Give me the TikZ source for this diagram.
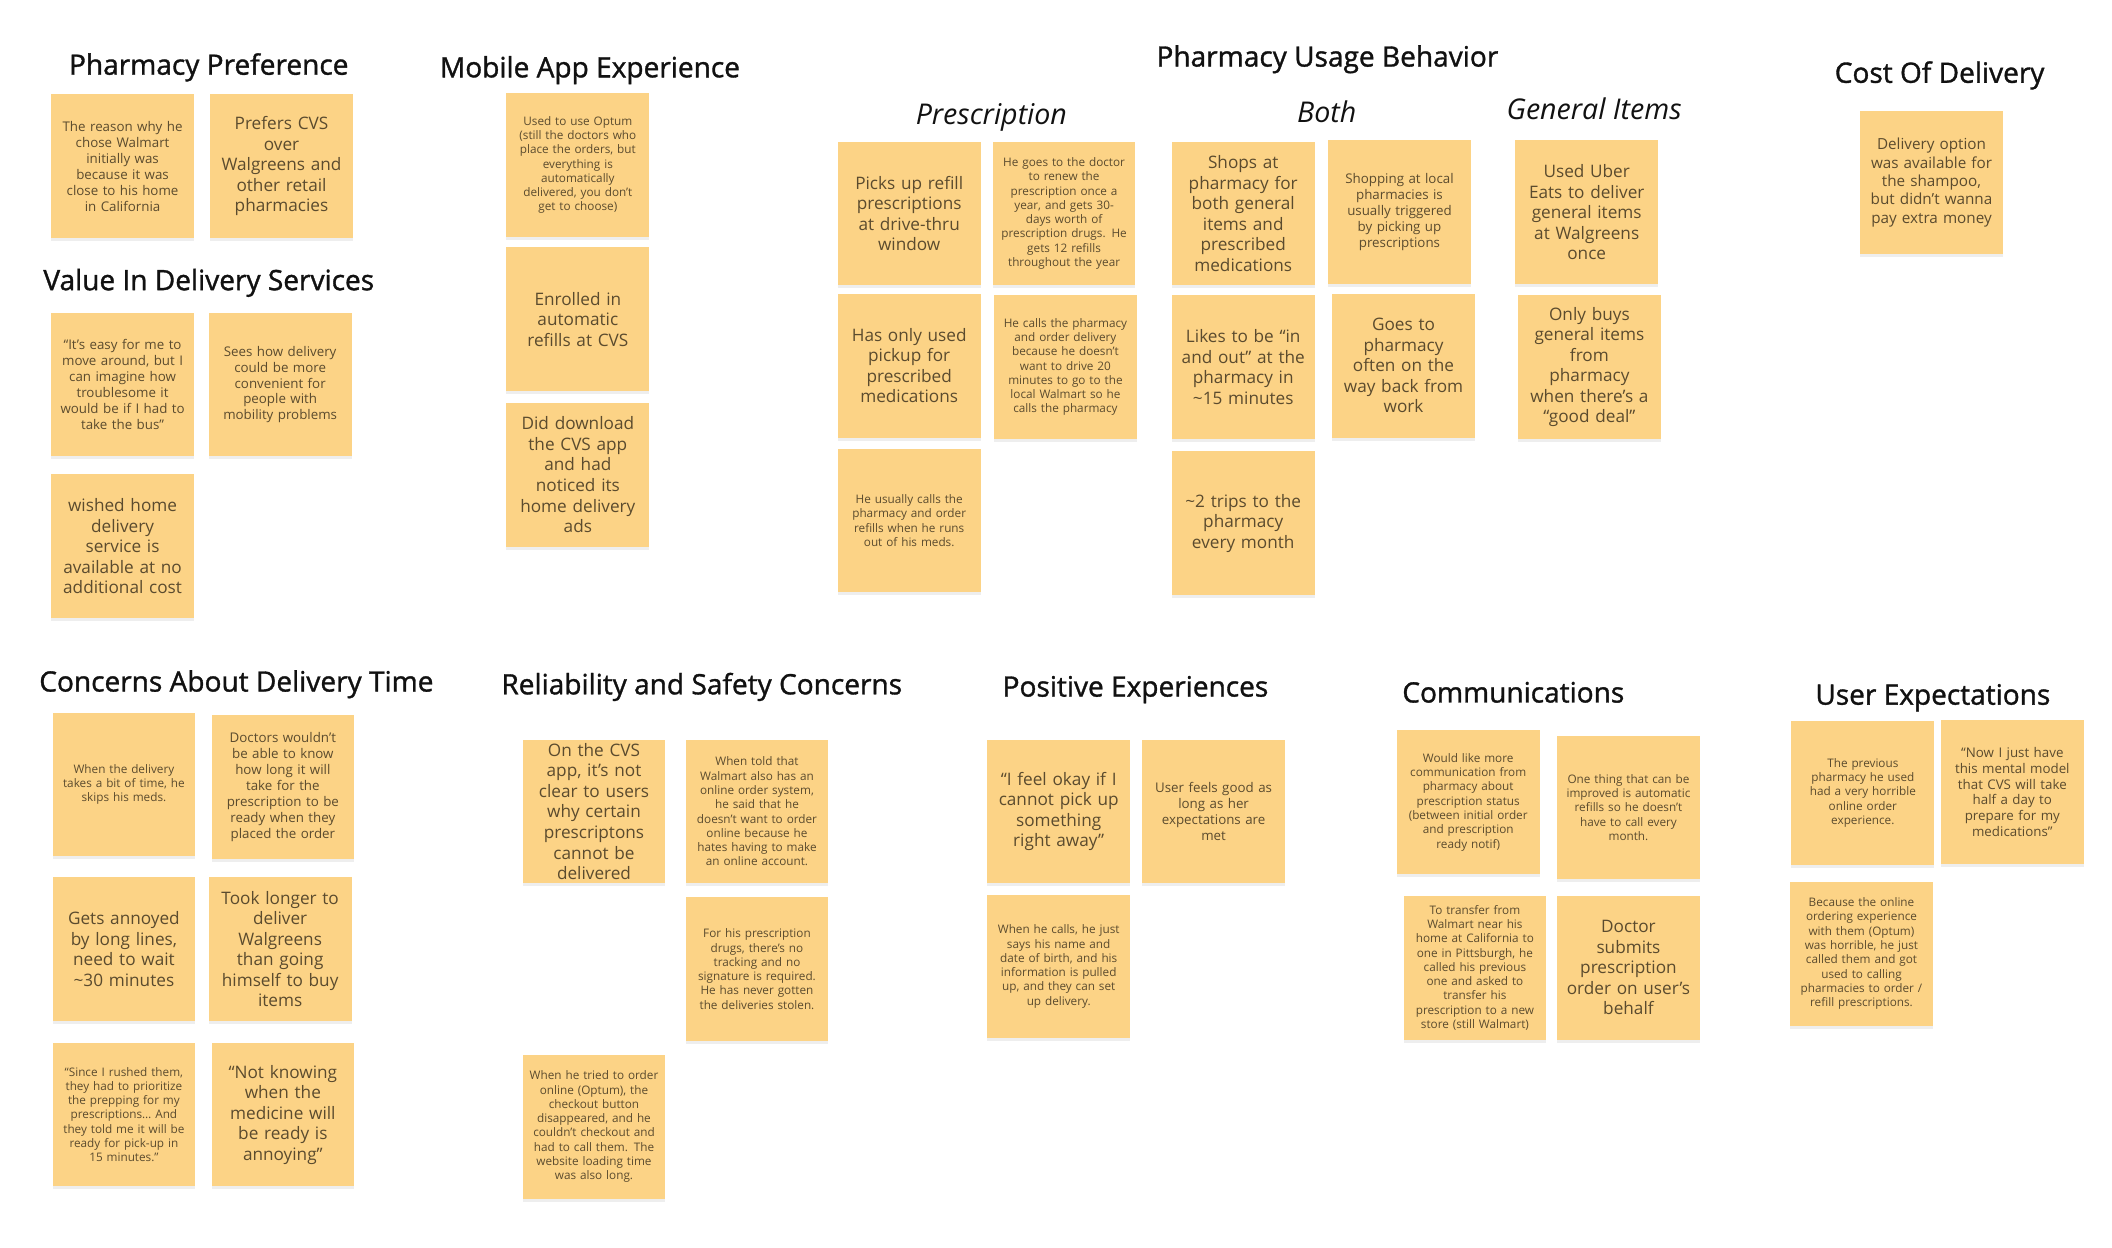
\documentclass[tikz,border=0pt]{standalone}
\usepackage{fontspec}
\setmainfont{Open Sans}
\newfontfamily\headfont{Open Sans}[FakeBold=1.2]
\usetikzlibrary{shadows}
\definecolor{stickyfill}{HTML}{FCD386}
\definecolor{stickyink}{HTML}{5B4B2E}
\definecolor{headink}{HTML}{111111}

\begin{document}
\begin{tikzpicture}[x=0.027cm,y=-0.027cm,
                    sticky/.style={fill=stickyfill, text=stickyink, align=center,
                        text width=2.7cm, minimum width=2.86cm, minimum height=2.88cm, inner sep=0pt,
                        drop shadow={shadow xshift=0pt, shadow yshift=-0.6mm, opacity=0.13}},
                    stickybig/.style={sticky, font=\fontsize{9.8}{11.7}\selectfont},
                    stickymid/.style={sticky, font=\fontsize{7.6}{9.1}\selectfont},
                    stickysmall/.style={sticky, font=\fontsize{6.7}{8.15}\selectfont},
                    stickycost/.style={sticky, font=\fontsize{8.7}{10.45}\selectfont},
                    heading/.style={text=headink, font=\headfont\fontsize{16}{19}\selectfont},
                    subheading/.style={text=headink, font=\fontsize{16.3}{19}\selectfont\itshape}]
                    \fill[white] (0,0) rectangle (1568,926.5);
                    \useasboundingbox (0,0) rectangle (1568,926.5);

                    % Heading Pharmacy Preference
                    \node[heading] (hpref) at (155,50) {Pharmacy Preference};%
                    \node[stickymid] (pp1) at (91,123.5) {The reason why he\\chose Walmart\\initially was\\because it was\\close to his home\\in California};%
                    \node[stickybig] (pp2) at (209,123.5) {Prefers CVS\\over\\Walgreens and\\other retail\\pharmacies};%

                    % Heading Value In Delivery Services
                    \node[heading] (hvalue) at (155,210) {Value In Delivery Services};%
                    \node[stickymid] (vd1) at (91,285.5) {“It’s easy for me to\\move around, but I\\can imagine how\\troublesome it\\would be if I had to\\take the bus”};%
                    \node[stickymid] (vd2) at (208,285.5) {Sees how delivery\\could be more\\convenient for\\people with\\mobility problems};%
                    \node[stickybig] (vd3) at (91,405.5) {wished home\\delivery\\service is\\available at no\\additional cost};%

                    % Heading Mobile App Experience
                    \node[heading] (hmobile) at (438,52) {Mobile App Experience};%
                    \node[stickysmall] (ma1) at (429,122.5) {Used to use Optum\\(still the doctors who\\place the orders, but\\everything is\\automatically\\delivered, you don’t\\get to choose)};%
                    \node[stickybig] (ma2) at (429,237) {Enrolled in\\automatic\\refills at CVS};%
                    \node[stickybig] (ma3) at (429,352.5) {Did download\\the CVS app\\and had\\noticed its\\home delivery\\ads};%

                    % Heading Pharmacy Usage Behavior
                    \node[heading] (husage) at (985.5,44) {Pharmacy Usage Behavior};%

                    % Subheading Prescription
                    \node[subheading] (hpresc) at (736,87) {Prescription};%
                    \node[stickybig] (pr1) at (675,158.5) {Picks up refill\\prescriptions\\at drive-thru\\window};%
                    \node[stickysmall] (pr2) at (790,158.5) {He goes to the doctor\\to renew the\\prescription once a\\year, and gets 30-\\days worth of\\prescription drugs. He\\gets 12 refills\\throughout the year};%
                    \node[stickybig] (pr3) at (675,271.5) {Has only used\\pickup for\\prescribed\\medications};%
                    \node[stickysmall] (pr4) at (791,272.5) {He calls the pharmacy\\and order delivery\\because he doesn’t\\want to drive 20\\minutes to go to the\\local Walmart so he\\calls the pharmacy};%
                    \node[stickysmall] (pr5) at (675,386.5) {He usually calls the\\pharmacy and order\\refills when he runs\\out of his meds.};%

                    % Subheading Both
                    \node[subheading] (hboth) at (985,83) {Both};%
                    \node[stickybig] (bo1) at (923,158.5) {Shops at\\pharmacy for\\both general\\items and\\prescribed\\medications};%
                    \node[stickymid] (bo2) at (1039,157.5) {Shopping at local\\pharmacies is\\usually triggered\\by picking up\\prescriptions};%
                    \node[stickybig] (bo3) at (923,272.5) {Likes to be “in\\and out” at the\\pharmacy in\\\textasciitilde15 minutes};%
                    \node[stickybig] (bo4) at (1042,271.5) {Goes to\\pharmacy\\often on the\\way back from\\work};%
                    \node[stickybig] (bo5) at (923,388.5) {\textasciitilde2 trips to the\\pharmacy\\every month};%

                    % Subheading General Items
                    \node[subheading] (hgeneral) at (1183.5,81) {General Items};%
                    \node[stickybig] (gi1) at (1178,157.5) {Used Uber\\Eats to deliver\\general items\\at Walgreens\\once};%
                    \node[stickybig] (gi2) at (1180,272.5) {Only buys\\general items\\from\\pharmacy\\when there’s a\\“good deal”};%

                    % Heading Cost Of Delivery
                    \node[heading] (hcost) at (1440,56) {Cost Of Delivery};%
                    \node[stickycost] (cd1) at (1434,135.5) {Delivery option\\was available for\\the shampoo,\\but didn’t wanna\\pay extra money};%

                    % Heading Concerns About Delivery Time
                    \node[heading] (htime) at (175.5,508) {Concerns About Delivery Time};%
                    \node[stickysmall] (ct1) at (92,582.5) {When the delivery\\takes a bit of time, he\\skips his meds.};%
                    \node[stickymid] (ct2) at (210,584.5) {Doctors wouldn’t\\be able to know\\how long it will\\take for the\\prescription to be\\ready when they\\placed the order};%
                    \node[stickybig] (ct3) at (92,704.5) {Gets annoyed\\by long lines,\\need to wait\\\textasciitilde30 minutes};%
                    \node[stickybig] (ct4) at (208,704.5) {Took longer to\\deliver\\Walgreens\\than going\\himself to buy\\items};%
                    \node[stickysmall] (ct5) at (92,827.5) {“Since I rushed them,\\they had to prioritize\\the prepping for my\\prescriptions… And\\they told me it will be\\ready for pick-up in\\15 minutes.”};%
                    \node[stickybig] (ct6) at (210,827.5) {“Not knowing\\when the\\medicine will\\be ready is\\annoying”};%

                    % Heading Reliability and Safety Concerns
                    \node[heading] (hsafety) at (521,510) {Reliability and Safety Concerns};%
                    \node[stickybig] (rs1) at (441,602.5) {On the CVS\\app, it’s not\\clear to users\\why certain\\prescriptons\\cannot be\\delivered};%
                    \node[stickysmall] (rs2) at (562,602.5) {When told that\\Walmart also has an\\online order system,\\he said that he\\doesn’t want to order\\online because he\\hates having to make\\an online account.};%
                    \node[stickysmall] (rs3) at (562,719.5) {For his prescription\\drugs, there’s no\\tracking and no\\signature is required.\\He has never gotten\\the deliveries stolen.};%
                    \node[stickysmall] (rs4) at (441,836.5) {When he tried to order\\online (Optum), the\\checkout button\\disappeared, and he\\couldn’t checkout and\\had to call them. The\\website loading time\\was also long.};%

                    % Heading Positive Experiences
                    \node[heading] (hpositive) at (843,512) {Positive Experiences};%
                    \node[stickybig] (pe1) at (786,602.5) {“I feel okay if I\\cannot pick up\\something\\right away”};%
                    \node[stickymid] (pe2) at (901,602.5) {User feels good as\\long as her\\expectations are\\met};%
                    \node[stickysmall] (pe3) at (786,717.5) {When he calls, he just\\says his name and\\date of birth, and his\\information is pulled\\up, and they can set\\up delivery.};%

                    % Heading Communications
                    \node[heading] (hcomm) at (1123.5,514) {Communications};%
                    \node[stickysmall] (co1) at (1090,595.5) {Would like more\\communication from\\pharmacy about\\prescription status\\(between initial order\\and prescription\\ready notif)};%
                    \node[stickysmall] (co2) at (1209,599.5) {One thing that can be\\improved is automatic\\refills so he doesn’t\\have to call every\\month.};%
                    \node[stickysmall] (co3) at (1095,718.5) {To transfer from\\Walmart near his\\home at California to\\one in Pittsburgh, he\\called his previous\\one and asked to\\transfer his\\prescription to a new\\store (still Walmart)};%
                    \node[stickybig] (co4) at (1209,718.5) {Doctor\\submits\\prescription\\order on user’s\\behalf};%

                    % Heading User Expectations
                    \node[heading] (hexpect) at (1435,518) {User Expectations};%
                    \node[stickysmall] (ue1) at (1383,588.5) {The previous\\pharmacy he used\\had a very horrible\\online order\\experience.};%
                    \node[stickymid] (ue2) at (1494,588) {“Now I just have\\this mental model\\that CVS will take\\half a day to\\prepare for my\\medications”};%
                    \node[stickysmall] (ue3) at (1382,708) {Because the online\\ordering experience\\with them (Optum)\\was horrible, he just\\called them and got\\used to calling\\pharmacies to order /\\refill prescriptions.};%
                    \end{tikzpicture}
\end{document}
